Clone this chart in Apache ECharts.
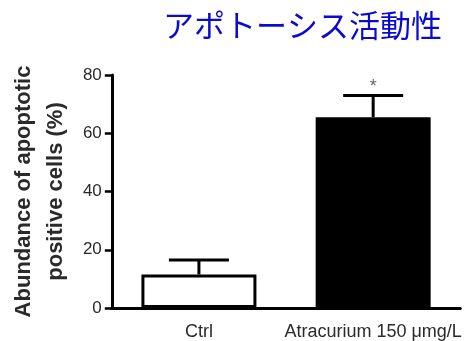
<!DOCTYPE html>
<html><head><meta charset="utf-8">
<script src="https://cdn.jsdelivr.net/npm/echarts@6/dist/echarts.min.js"></script>
<style>html,body{margin:0;padding:0;background:#fff}#c{width:464px;height:341px}</style>
</head><body><div id="c"></div>
<script>
const categories = ['Ctrl', 'Atracurium 150 μmg/L'];
const means = [11.5, 65.5];
const errUpper = [16.5, 73];
const yTicks = [0, 20, 40, 60, 80];
const significance = ['', '*'];

const chart = echarts.init(document.getElementById('c'));
chart.setOption({
  animation: false,
  title: {
    text: 'アポトーシス活動性',
    right: 17, top: 5,
    textStyle: {fontFamily: 'Noto Sans CJK JP', fontSize: 31, fontWeight: 'normal', color: '#0a0ad0'}
  },
  grid: {left: 111, right: 1, top: 75, bottom: 33},
  xAxis: {
    type: 'category', data: categories,
    axisLine: {lineStyle: {color: '#000', width: 3}},
    axisTick: {show: false},
    axisLabel: {interval: 0, fontFamily: 'Liberation Sans', fontSize: 18, color: '#2a2a2a', margin: 15}
  },
  yAxis: {
    type: 'value', min: yTicks[0], max: yTicks[yTicks.length-1], interval: 20,
    name: 'Abundance of apoptotic\npositive cells (%)',
    nameLocation: 'middle', nameGap: 36, nameRotate: 90,
    nameTextStyle: {fontFamily: 'Liberation Sans', fontSize: 22, fontWeight: 'bold', color: '#2a2a2a', lineHeight: 32},
    axisLine: {show: true, lineStyle: {color: '#000', width: 3}},
    axisTick: {show: true, length: 7, lineStyle: {color: '#000', width: 2.5}},
    splitLine: {show: false},
    axisLabel: {fontFamily: 'Liberation Sans', fontSize: 17, color: '#2a2a2a', margin: 10}
  },
  series: [
    {
      type: 'bar', data: means.map((v, i) => ({value: v, itemStyle: {color: i === 0 ? '#fff' : '#000'}})),
      barWidth: '66%',
      itemStyle: {borderColor: '#000', borderWidth: 3}
    },
    {
      type: 'custom',
      data: means.map((v, i) => [i, v, errUpper[i]]),
      renderItem: function (params, api) {
        const x = api.value(0);
        const base = api.coord([x, api.value(1)]);
        const top = api.coord([x, api.value(2)]);
        const half = 30;
        const children = [
          {type: 'line', shape: {x1: base[0], y1: base[1], x2: top[0], y2: top[1]}, style: {stroke: '#000', lineWidth: 3}},
          {type: 'line', shape: {x1: top[0]-half, y1: top[1], x2: top[0]+half, y2: top[1]}, style: {stroke: '#000', lineWidth: 3}}
        ];
        const s = significance[params.dataIndex];
        if (s) children.push({type: 'text', style: {text: s, x: top[0], y: top[1] + 1, textAlign: 'center', textVerticalAlign: 'bottom', fill: '#666', font: '18px Liberation Sans'}});
        return {type: 'group', children: children};
      },
      z: 3
    }
  ]
});
</script></body></html>
